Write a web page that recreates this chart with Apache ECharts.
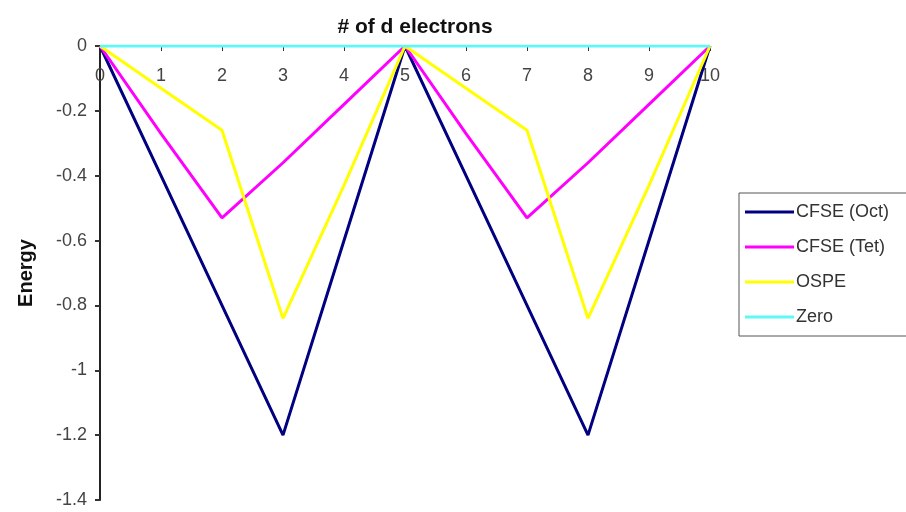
<!DOCTYPE html>
<html>
<head>
<meta charset="utf-8">
<script src="https://cdn.jsdelivr.net/npm/echarts@6/dist/echarts.min.js"></script>
<style>
  html, body { margin: 0; padding: 0; background: #fff; }
  #chart { width: 906px; height: 512px; }
</style>
</head>
<body>
<div id="chart"></div>
<script>
// Number of d electrons
const electrons = ['0', '1', '2', '3', '4', '5', '6', '7', '8', '9', '10'];

// Crystal field stabilisation energies and octahedral site preference energy
const cfseOct = [0, -0.4, -0.8, -1.2, -0.6, 0, -0.4, -0.8, -1.2, -0.6, 0];
const cfseTet = [0, -0.27, -0.53, -0.36, -0.18, 0, -0.27, -0.53, -0.36, -0.18, 0];
const ospe    = [0, -0.13, -0.26, -0.84, -0.43, 0, -0.13, -0.26, -0.84, -0.43, 0];
const zero    = [0, 0, 0, 0, 0, 0, 0, 0, 0, 0, 0];

const font = 'Liberation Sans, Arial, sans-serif';

const chart = echarts.init(document.getElementById('chart'), null, { renderer: 'canvas' });

function line(name, data, color) {
  return {
    name: name,
    type: 'line',
    data: data,
    symbol: 'none',
    lineStyle: { color: color, width: 3 },
    itemStyle: { color: color },
    animation: false
  };
}

chart.setOption({
  backgroundColor: '#ffffff',
  animation: false,
  title: {
    text: '# of d electrons',
    left: 410,
    top: 12,
    textAlign: 'center',
    textStyle: { fontFamily: font, fontSize: 21, fontWeight: 'bold', color: '#111' }
  },
  grid: { left: 100, top: 46, right: 196, bottom: 12 },
  xAxis: {
    type: 'category',
    data: electrons,
    position: 'top',
    boundaryGap: false,
    axisLine: { onZero: false, lineStyle: { color: '#222', width: 1 } },
    axisTick: { inside: true, length: 5, alignWithLabel: true, lineStyle: { color: '#333' } },
    axisLabel: { inside: true, margin: 21, fontFamily: font, fontSize: 18, color: '#444' },
    splitLine: { show: false }
  },
  yAxis: {
    type: 'value',
    min: -1.4,
    max: 0,
    interval: 0.2,
    name: 'Energy',
    nameLocation: 'middle',
    nameGap: 64,
    nameRotate: 90,
    nameTextStyle: { fontFamily: font, fontSize: 20, fontWeight: 'bold', color: '#111' },
    axisLine: { show: true, lineStyle: { color: '#222', width: 2 } },
    axisTick: { show: true, length: 5, lineStyle: { color: '#333', width: 2 } },
    axisLabel: {
      margin: 13,
      fontFamily: font,
      fontSize: 18,
      color: '#444',
      formatter: v => String(Math.round(v * 10) / 10)
    },
    splitLine: { show: false }
  },
  legend: {
    orient: 'vertical',
    left: 739,
    top: 193,
    icon: 'rect',
    itemWidth: 49,
    itemHeight: 3,
    itemGap: 15,
    padding: [9, 24, 9, 6],
    borderColor: '#555',
    borderWidth: 1,
    backgroundColor: '#fff',
    textStyle: { fontFamily: font, fontSize: 18, lineHeight: 20, color: '#333', padding: [0, 0, 0, -3] },
    data: ['CFSE (Oct)', 'CFSE (Tet)', 'OSPE', 'Zero']
  },
  series: [
    line('CFSE (Oct)', cfseOct, '#000080'),
    line('CFSE (Tet)', cfseTet, '#ff00ff'),
    line('OSPE', ospe, '#ffff00'),
    line('Zero', zero, '#5ff8f8')
  ]
});
</script>
</body>
</html>
